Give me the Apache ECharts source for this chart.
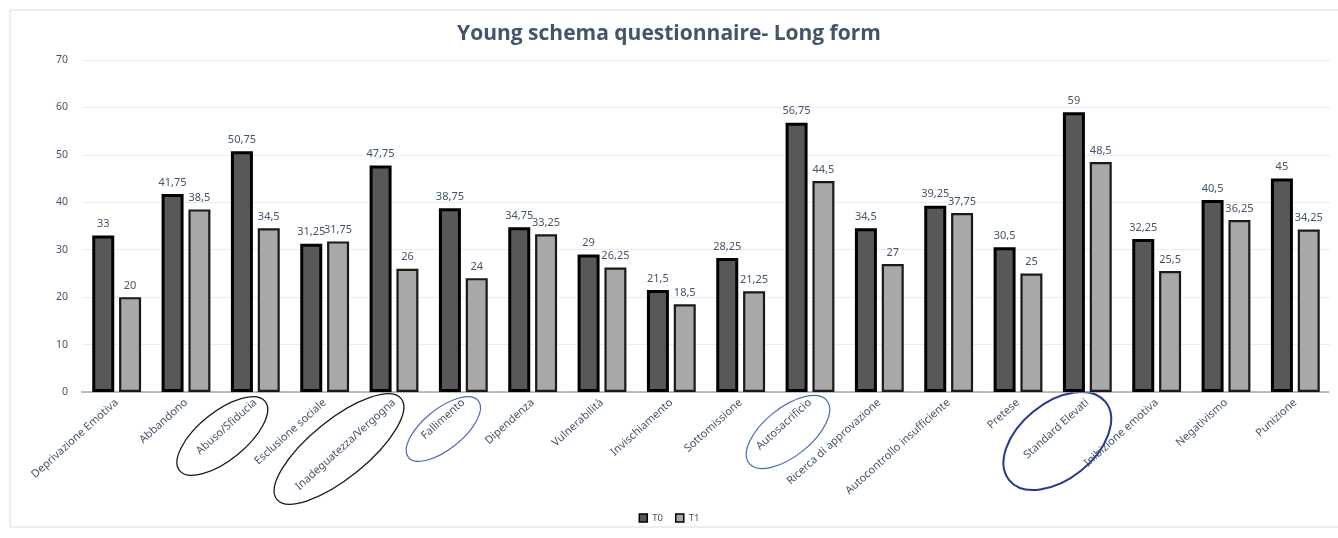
<!DOCTYPE html>
<html><head><meta charset="utf-8">
<script src="https://cdn.jsdelivr.net/npm/echarts@6/dist/echarts.min.js"></script>
<style>html,body{margin:0;padding:0;background:#fff}#c{width:1338px;height:538px}</style>
</head><body><div id="c"></div>
<script>
const categories = ['Deprivazione Emotiva','Abbandono','Abuso/Sfiducia','Esclusione sociale','Inadeguatezza/Vergogna','Fallimento','Dipendenza','Vulnerabilità','Invischiamento','Sottomissione','Autosacrificio','Ricerca di approvazione','Autocontrollo insufficiente','Pretese','Standard Elevati','Inibizione emotiva','Negativismo','Punizione'];
const t0 = [33,41.75,50.75,31.25,47.75,38.75,34.75,29,21.5,28.25,56.75,34.5,39.25,30.5,59,32.25,40.5,45];
const t1 = [20,38.5,34.5,31.75,26,24,33.25,26.25,18.5,21.25,44.5,27,37.75,25,48.5,25.5,36.25,34.25];
const yTicks = [0,10,20,30,40,50,60,70];
// hand-drawn highlight ellipses around some category labels
const highlights = [
  {cat:'Abuso/Sfiducia', color:'#1a1a1a', w:1.3, dx:-33, dy:44, a:55, b:24},
  {cat:'Inadeguatezza/Vergogna', color:'#1a1a1a', w:1.3, dx:-55, dy:57, a:80, b:29},
  {cat:'Fallimento', color:'#4a6cb3', w:1.2, dx:-20, dy:37, a:45, b:20},
  {cat:'Autosacrificio', color:'#4a6cb3', w:1.2, dx:-22, dy:40, a:50, b:24},
  {cat:'Standard Elevati', color:'#233a8c', w:2, dx:-30, dy:49, a:62, b:38}
];
const txt = '#44546A';
const fmt = p => String(p.value).replace('.', ',');
const chart = echarts.init(document.getElementById('c'), null, {renderer:'canvas'});
chart.setOption({
  backgroundColor:'#fff',
  animation:false,
  title:{text:'Young schema questionnaire- Long form', left:'center', top:19,
    textStyle:{color:txt, fontSize:21, fontWeight:'bold', fontFamily:'Open Sans'}},
  legend:{bottom:10, left:'center', itemWidth:8, itemHeight:8, itemGap:12,
    textStyle:{color:txt, fontSize:9.5, fontFamily:'Noto Sans'},
    data:[{name:'T0', icon:'rect', itemStyle:{borderColor:'#000', borderWidth:1.5}},{name:'T1', icon:'rect', itemStyle:{borderColor:'#000', borderWidth:1.5}}]},
  grid:{left:82, right:8, top:60, bottom:146},
  xAxis:{type:'category', data:categories,
    axisLine:{lineStyle:{color:'#9a9a9a', type:'dotted', width:1.5}},
    axisTick:{show:false},
    axisLabel:{rotate:42, interval:0, color:txt, fontSize:11, fontFamily:'Noto Sans', margin:9}},
  yAxis:{type:'value', min:yTicks[0], max:yTicks[yTicks.length-1], interval:10,
    axisLine:{show:false}, axisTick:{show:false},
    axisLabel:{color:txt, fontSize:10.5, fontFamily:'Noto Sans', margin:14},
    splitLine:{lineStyle:{color:'#e9edf2'}}},
  series:[
    {name:'T0', type:'bar', data:t0, barWidth:22, barGap:'22%',
      itemStyle:{color:'#585858', borderColor:'#000', borderWidth:3},
      label:{show:true, position:'top', distance:6, color:txt, fontSize:11, fontFamily:'Noto Sans', formatter:fmt}},
    {name:'T1', type:'bar', data:t1, barWidth:22,
      itemStyle:{color:'#a8a8a8', borderColor:'#1a1a1a', borderWidth:2.2},
      label:{show:true, position:'top', distance:6, color:txt, fontSize:11, fontFamily:'Noto Sans', formatter:fmt}}
  ]
});
const axisY = chart.convertToPixel({yAxisIndex:0}, 0);
const gr = [{type:'rect', shape:{x:10, y:10, width:1340, height:517}, style:{fill:'none', stroke:'#dcdcdc', lineWidth:1}, silent:true}];
highlights.forEach(h => {
  const cx = chart.convertToPixel({xAxisIndex:0}, h.cat);
  gr.push({type:'ellipse', x:cx + h.dx, y:axisY + h.dy, rotation:39*Math.PI/180,
    shape:{cx:0, cy:0, rx:h.a, ry:h.b},
    style:{fill:'none', stroke:h.color, lineWidth:h.w}, silent:true});
});
chart.setOption({graphic:gr});
</script></body></html>
